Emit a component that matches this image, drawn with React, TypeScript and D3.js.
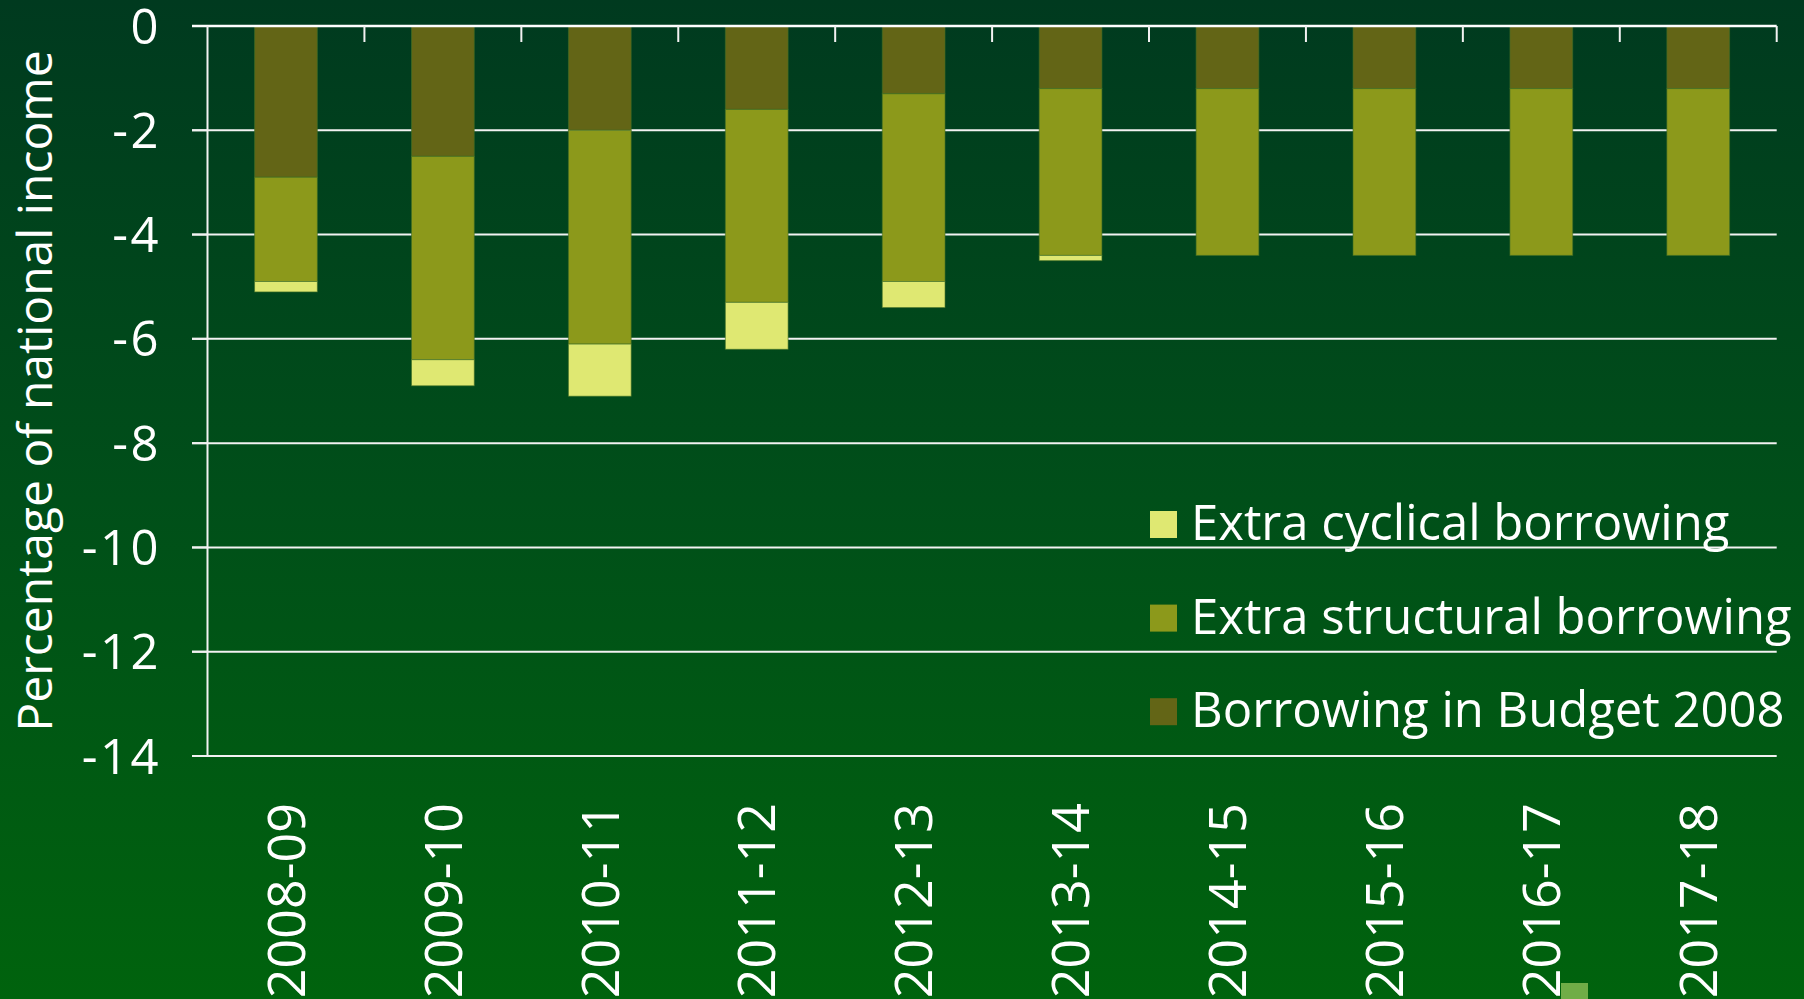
import React, { useEffect } from "react";
import * as d3 from "d3";

const categories = ["2008-09", "2009-10", "2010-11", "2011-12", "2012-13", "2013-14", "2014-15", "2015-16", "2016-17", "2017-18"];
const budget2008 = [-2.9, -2.5, -2.0, -1.6, -1.3, -1.2, -1.2, -1.2, -1.2, -1.2];
const extraStructural = [-2.0, -3.9, -4.1, -3.7, -3.6, -3.2, -3.2, -3.2, -3.2, -3.2];
const extraCyclical = [-0.2, -0.5, -1.0, -0.9, -0.5, -0.1, 0, 0, 0, 0];
const yTicks = [0, -2, -4, -6, -8, -10, -12, -14];
const seriesKeys = ["budget", "structural", "cyclical"];
const seriesColors: Record<string, string> = { budget: "#636516", structural: "#8c991b", cyclical: "#dfe872" };
const legendItems = [
  { key: "cyclical", label: "Extra cyclical borrowing" },
  { key: "structural", label: "Extra structural borrowing" },
  { key: "budget", label: "Borrowing in Budget 2008" },
];
const yTitle = "Percentage of national income";

const W = 1804;
const H = 999;
const FONT = "'Open Sans', 'Noto Sans', sans-serif";

export default function App() {
  useEffect(() => {
    document.body.style.margin = "0";
    document.body.style.overflow = "hidden";
  }, []);

  const rows = categories.map((c, i) => ({
    cat: c,
    budget: budget2008[i],
    structural: extraStructural[i],
    cyclical: extraCyclical[i],
  }));
  const stacked = d3.stack<any>().keys(seriesKeys).offset(d3.stackOffsetDiverging)(rows);

  const x = d3.scaleBand<string>().domain(categories).range([207.5, 1776.7]).paddingInner(0.6).paddingOuter(0.3);
  const y = d3.scaleLinear().domain([0, -14]).range([26, 756]);
  const step = x.step();
  const bandStart = 207.5;
  const boundaries = d3.range(1, categories.length + 1).map((i) => bandStart + i * step);

  const legendX = 1150;
  const legendTop = 511;
  const legendGap = 93.6;

  return (
    <svg width={W} height={H} style={{ display: "block" }} fontFamily={FONT}>
      <defs>
        <linearGradient id="bg" x1="0" y1="0" x2="0" y2="1">
          <stop offset="0" stopColor="#003a1f" />
          <stop offset="0.5" stopColor="#004f19" />
          <stop offset="1" stopColor="#00630d" />
        </linearGradient>
      </defs>
      <rect x={0} y={0} width={W} height={H} fill="url(#bg)" />

      {/* gridlines */}
      {yTicks.filter((t) => t !== 0).map((t) => (
        <line key={t} x1={192} x2={1776.7} y1={y(t)} y2={y(t)} stroke="#f2f2f2" strokeWidth={2} />
      ))}
      {yTicks.map((t) => (
        <line key={"tk" + t} x1={192} x2={207.5} y1={y(t)} y2={y(t)} stroke="#f2f2f2" strokeWidth={2} />
      ))}

      {/* bars */}
      {stacked.map((s) => (
        <g key={s.key} fill={seriesColors[s.key]}>
          {s.map((d, i) =>
            Math.abs(d[1] - d[0]) > 0 ? (
              <rect
                key={i}
                x={x(categories[i])}
                width={x.bandwidth()}
                y={y(Math.max(d[0], d[1]))}
                height={Math.abs(y(d[0]) - y(d[1]))}
                stroke="#3f6e26"
                strokeWidth={1}
                strokeOpacity={0.6}
              />
            ) : null
          )}
        </g>
      ))}

      {/* zero axis line and category ticks */}
      <line x1={192} x2={1776.7} y1={y(0)} y2={y(0)} stroke="#ffffff" strokeWidth={2.5} />
      {boundaries.map((bx, i) => (
        <line key={i} x1={bx} x2={bx} y1={y(0)} y2={y(0) + 16} stroke="#f2f2f2" strokeWidth={2} />
      ))}
      <line x1={207.5} x2={207.5} y1={y(0)} y2={y(-14)} stroke="#f2f2f2" strokeWidth={2} />

      {/* y tick labels */}
      {yTicks.map((t) => (
        <text key={"l" + t} x={161} y={y(t)} dy="0.36em" textAnchor="end" fill="#ffffff" fontSize={49} letterSpacing={2.5}>
          {t}
        </text>
      ))}

      {/* y title */}
      <text transform={`translate(52, ${(y(0) + y(-14)) / 2}) rotate(-90)`} textAnchor="middle" fill="#ffffff" fontSize={48}>
        {yTitle}
      </text>

      {/* x labels */}
      {categories.map((c) => (
        <text
          key={c}
          transform={`translate(${(x(c) as number) + x.bandwidth() / 2}, 803) rotate(-90)`}
          dy="0.36em"
          textAnchor="end"
          fill="#ffffff"
          fontSize={52}
        >
          {c}
        </text>
      ))}

      {/* legend */}
      {legendItems.map((it, i) => (
        <g key={it.key} transform={`translate(${legendX}, ${legendTop + i * legendGap})`}>
          <rect x={0} y={0} width={27} height={27} fill={seriesColors[it.key]} />
          <text x={41} y={29} fill="#ffffff" fontSize={49}>
            {it.label}
          </text>
        </g>
      ))}

      {/* small decorative square at bottom */}
      <rect x={1561} y={983} width={27} height={27} fill="#70ad47" />
    </svg>
  );
}
